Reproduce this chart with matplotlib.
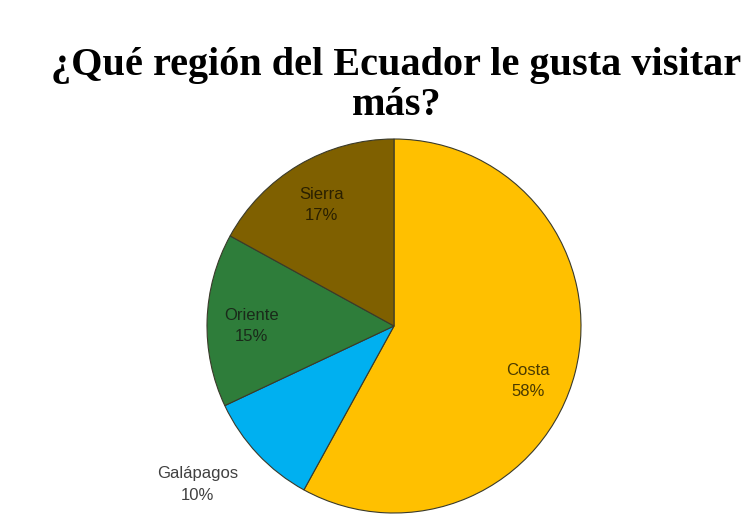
import numpy as np
import matplotlib.pyplot as plt

regiones = ["Costa", "Galápagos", "Oriente", "Sierra"]
porcentajes = [58, 10, 15, 17]
colores = ["#FFC000", "#00B0F0", "#2E7D3A", "#7F6000"]
titulo = "¿Qué región del Ecuador le gusta visitar\nmás?"

W, H = 755, 531
fig = plt.figure(figsize=(W / 100, H / 100), dpi=100)
fig.patch.set_facecolor("white")

# pie: center (394, 326) px, radius 187 px
cx, cy, r = 394, 326, 187
ax = fig.add_axes([(cx - r) / W, (H - cy - r) / H, 2 * r / W, 2 * r / H])
wedges, _ = ax.pie(porcentajes, colors=colores, startangle=90, counterclock=False,
                   radius=1, wedgeprops=dict(edgecolor="#3a3a2a", linewidth=0.8))
ax.set_xlim(-1, 1)
ax.set_ylim(-1, 1)
ax.set_aspect("equal")
ax.axis("off")

# label placement (distance, angle in degrees)
pos_labels = [(0.775, -22.3), (1.35, 218.9), (0.76, 180), (0.755, 121)]
text_col = ["#4a3a00", "#404040", "#1a2a1a", "#2a2000"]
for nombre, p, (d, ang), tc in zip(regiones, porcentajes, pos_labels, text_col):
    a = np.deg2rad(ang)
    ax.text(d * np.cos(a), d * np.sin(a), f"{nombre}\n{p}%", ha="center", va="center",
            fontsize=12, family="Liberation Sans", color=tc, linespacing=1.55)

fig.text(0.525, 0.912, titulo, ha="center", va="top", fontsize=29, fontweight="bold",
         family="Liberation Serif", linespacing=1.12)

fig.savefig("out.png", dpi=100)
